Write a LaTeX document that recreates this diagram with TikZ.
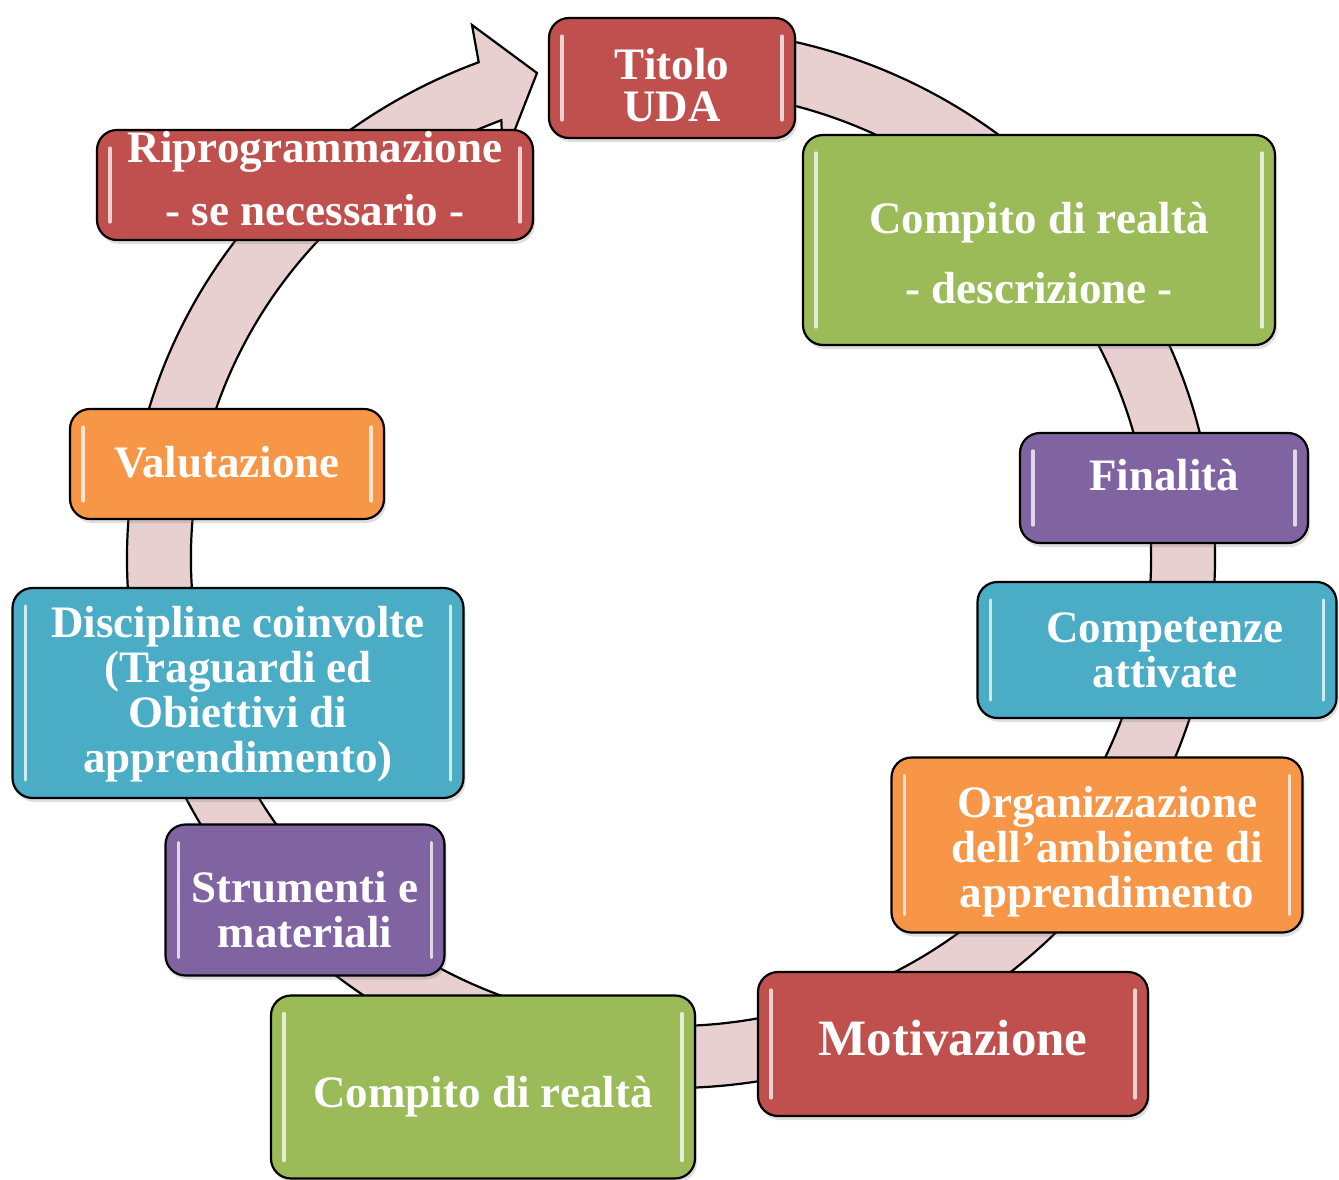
\documentclass[tikz,border=0pt]{standalone}
\usepackage{fontspec}
\setmainfont{Liberation Serif}
\usetikzlibrary{shadows,calc}
\definecolor{UdaRed}{HTML}{C0504D}
\definecolor{UdaGreen}{HTML}{9BBB59}
\definecolor{UdaPurple}{HTML}{8064A2}
\definecolor{UdaBlue}{HTML}{4BACC6}
\definecolor{UdaOrange}{HTML}{F79646}
\definecolor{RingFill}{RGB}{232,208,208}

% text block of a box, moved up (+) or down (-) without changing its size
\newcommand{\udatext}[2]{\raisebox{#1}[\height][\depth]{\begin{tabular}{@{}c@{}}#2\end{tabular}}}

\tikzset{
  gloss/.style={white, opacity=0.75, line width=3.2pt, line cap=round},
  ring/.style={draw=black, line width=2.2pt, fill=RingFill, line join=miter},
  uda/.style={draw=black, line width=2.2pt, rounded corners=20pt, fill=#1,
    text=white, align=center, inner sep=0pt,
    font=\fontsize{45}{45}\selectfont\bfseries,
    drop shadow={opacity=0.25, shadow xshift=2pt, shadow yshift=-4pt},
    path picture={
      \draw[gloss] ([xshift=13pt,yshift=-18pt]path picture bounding box.north west)
        -- ([xshift=13pt,yshift=18pt]path picture bounding box.south west);
      \draw[gloss] ([xshift=-13pt,yshift=-18pt]path picture bounding box.north east)
        -- ([xshift=-13pt,yshift=18pt]path picture bounding box.south east);
    }},
}

\begin{document}
\begin{tikzpicture}[x=1pt, y=-1pt]
  \useasboundingbox (0,0) rectangle (1339,1180);

  % the circular arrow behind the boxes
  \coordinate (c) at (671,558);
  \draw[ring] (c) ++(-85:544 and 530)
    arc[start angle=-85, end angle=249.3, x radius=544, y radius=530]
    -- (472,25) -- (537,73) -- (503,160)
    -- ($(c)+(249.3:480 and 468)$)
    arc[start angle=249.3, end angle=-85, x radius=480, y radius=468]
    -- cycle;

  % boxes, clockwise from the top
  \node[uda=UdaRed, minimum width=246pt, minimum height=120pt,
    font=\fontsize{45}{41}\selectfont\bfseries] (titolo) at (672,78) {\udatext{-13pt}{Titolo\\UDA}};
  \node[uda=UdaGreen, minimum width=472pt, minimum height=210pt,
    font=\fontsize{45}{70}\selectfont\bfseries] (compitodesc) at (1039,240) {\udatext{-14pt}{Compito di realtà\\- descrizione -}};
  \node[uda=UdaPurple, minimum width=288pt, minimum height=110pt] (finalita) at (1164,488) {\udatext{7pt}{Finalità}};
  \node[uda=UdaBlue, minimum width=359pt, minimum height=136pt] (competenze) at (1157,650) {\hspace*{16pt}\udatext{-6pt}{Competenze\\attivate}};
  \node[uda=UdaOrange, minimum width=411pt, minimum height=175pt] (organizzazione) at (1097,845) {\hspace*{20pt}\udatext{-8pt}{Organizzazione\\dell’ambiente di\\apprendimento}};
  \node[uda=UdaRed, minimum width=390pt, minimum height=144pt,
    font=\fontsize{51}{51}\selectfont\bfseries] (motivazione) at (953,1044) {\udatext{-1pt}{Motivazione}};
  \node[uda=UdaGreen, minimum width=424pt, minimum height=183pt] (compito) at (483,1087) {\udatext{-11pt}{Compito di realtà}};
  \node[uda=UdaPurple, minimum width=279pt, minimum height=151pt] (strumenti) at (305,900) {\udatext{-16pt}{Strumenti e\\materiali}};
  \node[uda=UdaBlue, minimum width=451pt, minimum height=210pt] (discipline) at (238,693) {\udatext{-3pt}{Discipline coinvolte\\(Traguardi ed\\Obiettivi di\\apprendimento)}};
  \node[uda=UdaOrange, minimum width=314pt, minimum height=110pt] (valutazione) at (227,464) {\udatext{-4pt}{Valutazione}};
  \node[uda=UdaRed, minimum width=436pt, minimum height=110pt] (riprog) at (315,185) {\udatext{0pt}{Riprogrammazione\\[17pt]- se necessario -}};
\end{tikzpicture}
\end{document}
